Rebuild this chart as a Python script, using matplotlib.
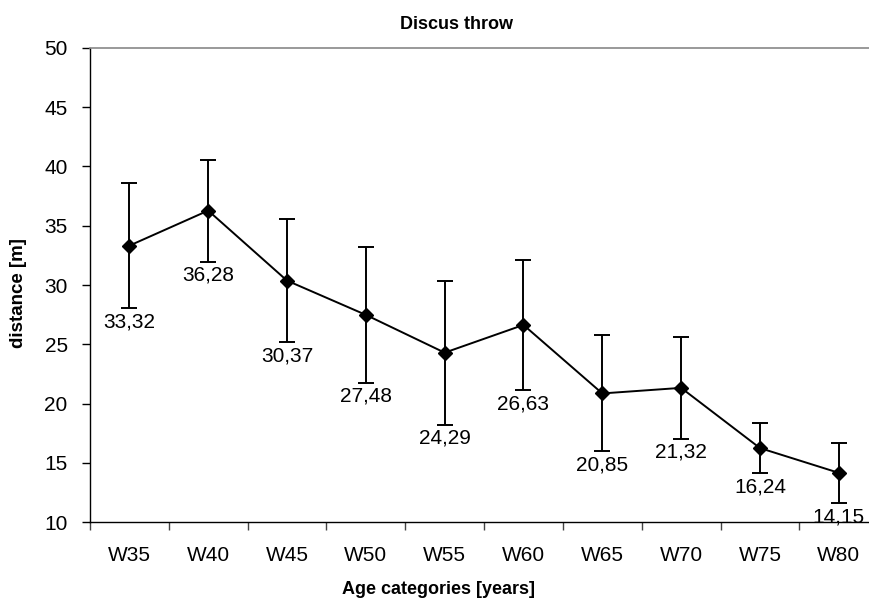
import matplotlib
matplotlib.use("Agg")
import matplotlib.pyplot as plt
from matplotlib.ticker import FixedLocator

# Data
categories = ["W35", "W40", "W45", "W50", "W55", "W60", "W65", "W70", "W75", "W80"]
means = [33.32, 36.28, 30.37, 27.48, 24.29, 26.63, 20.85, 21.32, 16.24, 14.15]
sds = [5.25, 4.3, 5.2, 5.72, 6.07, 5.5, 4.9, 4.3, 2.1, 2.55]
labels = [f"{m:.2f}".replace(".", ",") for m in means]


def main():
    plt.rcParams["font.family"] = ["Liberation Sans", "DejaVu Sans"]

    fig = plt.figure(figsize=(8.7, 6.06), dpi=100)
    ax = fig.add_axes([0.1034, 0.1386, 0.906, 0.7822])

    x = list(range(len(categories)))
    ax.errorbar(
        x,
        means,
        yerr=sds,
        color="black",
        linewidth=1.4,
        marker="D",
        markersize=7.5,
        elinewidth=1.4,
        capsize=5.5,
        capthick=1.4,
        )

    # value labels just below the lower error bar
    for xi, m, s, lab in zip(x, means, sds, labels):
        ax.annotate(
            lab,
            (xi, m - s),
            xytext=(0, -3),
            textcoords="offset points",
            ha="center",
            va="top",
            fontsize=15,
            )

    ax.set_xlim(-0.5, len(categories) - 0.5)
    ax.set_ylim(10, 50)
    ax.set_yticks(range(10, 51, 5))
    ax.set_xticks(x)
    ax.set_xticklabels(categories)
    ax.xaxis.set_minor_locator(FixedLocator([i - 0.5 for i in range(len(categories) + 1)]))
    ax.tick_params(axis="x", which="major", length=0, pad=17, labelsize=15)
    ax.tick_params(axis="x", which="minor", length=6, width=1, color="#444444")
    ax.tick_params(axis="y", length=6, width=1, labelsize=15, pad=10)

    ax.spines["right"].set_visible(False)
    ax.spines["top"].set_color("#888888")
    ax.spines["top"].set_linewidth(1.2)
    ax.spines["left"].set_linewidth(1)
    ax.spines["bottom"].set_linewidth(1)

    ax.set_title("Discus throw", fontsize=13, fontweight="bold", pad=14, x=0.465)
    ax.set_xlabel("Age categories [years]", fontsize=13, fontweight="bold")
    ax.xaxis.set_label_coords(0.442, -0.124)
    ax.set_ylabel("distance [m]", fontsize=13.5, fontweight="bold")
    ax.yaxis.set_label_coords(-0.08, 0.482)

    fig.savefig("out.png", dpi=100)


if __name__ == "__main__":
    main()
